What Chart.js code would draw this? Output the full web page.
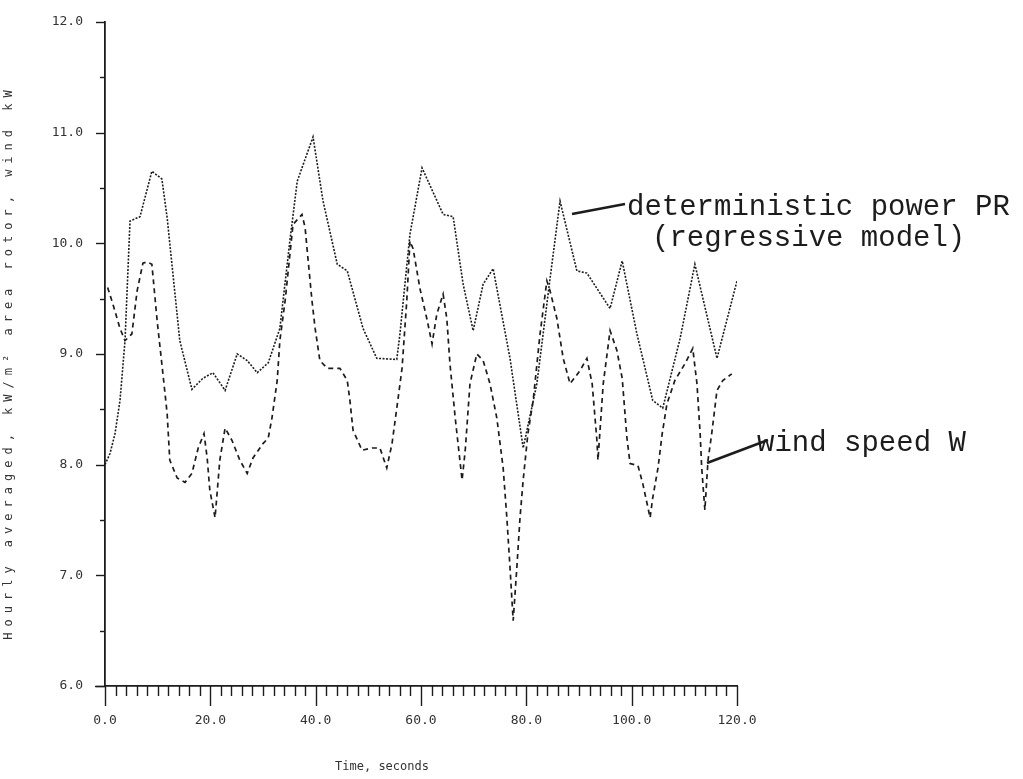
<!DOCTYPE html>
<html>
<head>
<meta charset="utf-8">
<script src="https://cdn.jsdelivr.net/npm/chart.js@4.4.1/dist/chart.umd.min.js"></script>
<style>
  html, body { margin: 0; padding: 0; background: #fff; }
  #wrap { width: 1023px; height: 779px; position: relative; }
</style>
</head>
<body>
<div id="wrap"><canvas id="chart" width="1023" height="779"></canvas></div>
<script>
// =====================
// DATA
// =====================
const xTicks = [0, 20, 40, 60, 80, 100, 120];
const yTicks = [6, 7, 8, 9, 10, 11, 12];

// deterministic power PR (regressive model) - fine dotted curve
const powerTime = [0, 0.95, 1.9, 2.85, 3.8, 4.75, 6.65, 8.9, 10.8, 11.8, 14.2, 16.5, 18.6, 20.5, 22.8, 25.1,
    27.0, 28.9, 31.0, 33.2, 35.1, 36.5, 39.5, 41.4, 44.1, 46.0, 49.0, 51.6, 55.4, 56.0, 57.9, 60.2,
    64.2, 66.1, 68.0, 69.9, 71.8, 73.7, 76.9, 79.4, 82.0, 84.5, 86.4, 89.6, 91.5, 95.9, 98.2, 101.0,
    104.0, 105.9, 109.2, 112.0, 116.2, 120.0];
const powerValues = [8.0, 8.10, 8.28, 8.58, 9.12, 10.20, 10.24, 10.65, 10.58, 10.23, 9.12, 8.68, 8.78, 8.83, 8.67, 9.00,
    8.94, 8.83, 8.92, 9.23, 10.02, 10.56, 10.96, 10.38, 9.81, 9.75, 9.23, 8.96, 8.95, 9.18, 10.08, 10.68,
    10.26, 10.24, 9.63, 9.21, 9.63, 9.77, 8.96, 8.15, 8.73, 9.68, 10.38, 9.75, 9.73, 9.41, 9.84, 9.18,
    8.58, 8.51, 9.14, 9.81, 8.96, 9.66];

// wind speed W - dashed curve
const windTime = [0.5, 1.5, 2.85, 3.8, 5.1, 6.1, 7.2, 8.0, 8.9, 9.9, 11.0, 11.8, 12.3, 13.7, 15.2, 16.5,
    17.7, 18.8, 19.4, 19.9, 20.9, 21.8, 22.8, 24.1, 25.6, 27.0, 28.1, 30.0, 31.0, 31.7, 32.7, 33.2,
    34.2, 35.7, 37.4, 38.0, 38.4, 39.3, 39.9, 40.8, 42.2, 44.6, 46.0, 46.5, 47.1, 48.8, 50.7, 52.2,
    53.5, 54.5, 55.6, 56.4, 57.3, 57.9, 58.5, 59.8, 61.1, 62.1, 63.0, 64.2, 64.9, 65.5, 66.5, 67.8,
    68.4, 69.3, 70.6, 71.8, 73.1, 74.4, 75.6, 76.3, 76.9, 77.5, 78.2, 78.8, 79.4, 80.3, 81.3, 82.6,
    83.9, 84.5, 85.8, 87.0, 88.3, 90.2, 91.5, 92.5, 93.4, 93.6, 94.6, 95.9, 97.2, 98.2, 99.1, 99.7,
    101.2, 102.1, 103.5, 104.0, 105.0, 105.8, 106.7, 108.2, 110.1, 111.6, 112.4, 113.0, 113.3, 113.9,
    114.5, 115.2, 116.2, 117.3, 119.0];
const windValues = [9.6, 9.45, 9.23, 9.12, 9.18, 9.57, 9.82, 9.83, 9.81, 9.30, 8.82, 8.46, 8.04, 7.88, 7.84, 7.92,
    8.15, 8.28, 8.06, 7.77, 7.52, 8.04, 8.33, 8.22, 8.04, 7.92, 8.06, 8.19, 8.24, 8.42, 8.76, 9.12,
    9.48, 10.17, 10.26, 10.14, 9.93, 9.48, 9.23, 8.94, 8.87, 8.87, 8.76, 8.58, 8.31, 8.13, 8.15, 8.15,
    7.97, 8.19, 8.58, 8.87, 9.48, 10.02, 9.95, 9.59, 9.32, 9.09, 9.36, 9.54, 9.32, 8.91, 8.42, 7.86,
    8.13, 8.73, 9.00, 8.94, 8.73, 8.42, 7.97, 7.52, 7.07, 6.59, 7.07, 7.52, 7.86, 8.28, 8.58, 9.18,
    9.66, 9.57, 9.32, 8.96, 8.73, 8.85, 8.96, 8.73, 8.22, 8.04, 8.73, 9.21, 9.03, 8.78, 8.24, 8.01,
    7.99, 7.83, 7.52, 7.70, 7.97, 8.28, 8.55, 8.76, 8.91, 9.05, 8.73, 8.28, 7.97, 7.59,
    8.04, 8.28, 8.67, 8.76, 8.82];

const xTitle = 'Time, seconds';
const yTitle = 'Hourly averaged, kW/m\u00B2 area rotor, wind kW';

const ink = '#1c1c1c';
const tickFont = { family: 'DejaVu Sans Mono', size: 13 };

function toPoints(xs, ys) {
    return xs.map((x, i) => ({ x: x, y: ys[i] }));
}

// =====================
// PLOTTER-STYLE AXES, TICKS AND NOTES
// =====================
const plotterDecor = {
    id: 'plotterDecor',
    afterDraw(chart) {
        const ctx = chart.ctx;
        const xs = chart.scales.x;
        const ys = chart.scales.y;
        const x0 = xs.getPixelForValue(0);
        const y0 = ys.getPixelForValue(6);

        ctx.save();
        ctx.strokeStyle = ink;
        ctx.lineWidth = 1.4;

        // x axis ticks: minor every 2 s, major every 20 s
        for (let t = 0; t <= 120; t += 2) {
            const px = Math.round(xs.getPixelForValue(t)) + 0.5;
            const len = (t % 20 === 0) ? 20 : 10;
            ctx.beginPath();
            ctx.moveTo(px, y0);
            ctx.lineTo(px, y0 + len);
            ctx.stroke();
        }
        // y axis ticks: every 0.5, pointing left
        for (let v = 6; v <= 12.001; v += 0.5) {
            const py = Math.round(ys.getPixelForValue(v)) + 0.5;
            const len = (Math.abs(v - Math.round(v)) < 0.01) ? 9 : 5;
            ctx.beginPath();
            ctx.moveTo(x0 - len, py);
            ctx.lineTo(x0, py);
            ctx.stroke();
        }
        // small extension of the x axis to the left
        ctx.beginPath();
        ctx.moveTo(x0 - 10, Math.round(y0) + 0.5);
        ctx.lineTo(x0, Math.round(y0) + 0.5);
        ctx.stroke();

        // axis titles
        ctx.fillStyle = '#333';
        ctx.font = '12px "DejaVu Sans Mono"';
        ctx.textAlign = 'center';
        ctx.textBaseline = 'middle';
        ctx.fillText(xTitle, 382, 767);

        ctx.save();
        ctx.translate(9, 362);
        ctx.rotate(-Math.PI / 2);
        ctx.letterSpacing = '6px';
        ctx.fillText(yTitle, 0, 0);
        ctx.restore();

        // annotations
        ctx.fillStyle = ink;
        ctx.font = '29px "Liberation Mono"';
        ctx.textAlign = 'left';
        ctx.textBaseline = 'alphabetic';
        ctx.fillText('deterministic power PR', 627, 215);
        ctx.fillText('(regressive model)', 652, 246);
        ctx.fillText('wind speed W', 757, 451);

        ctx.lineWidth = 2.6;
        ctx.beginPath();
        ctx.moveTo(572, 214);
        ctx.lineTo(625, 204);
        ctx.stroke();
        ctx.beginPath();
        ctx.moveTo(707, 463);
        ctx.lineTo(768, 440);
        ctx.stroke();
        ctx.restore();
    }
};

// =====================
// RENDER CHART
// =====================
const chart = new Chart(document.getElementById('chart').getContext('2d'), {
    type: 'line',
    data: {
        datasets: [
            {
                label: 'deterministic power PR (regressive model)',
                data: toPoints(powerTime, powerValues),
                borderColor: ink,
                borderWidth: 1.6,
                borderDash: [2, 1.5],
                pointRadius: 0,
                tension: 0,
                fill: false,
            },
            {
                label: 'wind speed W',
                data: toPoints(windTime, windValues),
                borderColor: ink,
                borderWidth: 1.7,
                borderDash: [5, 4],
                pointRadius: 0,
                tension: 0,
                fill: false,
            }
        ]
    },
    options: {
        responsive: false,
        animation: false,
        layout: { padding: { left: 0, right: 286, top: 20, bottom: 0 } },
        plugins: {
            legend: { display: false },
            tooltip: { enabled: false },
        },
        scales: {
            x: {
                type: 'linear',
                min: 0,
                max: 120,
                afterBuildTicks: s => { s.ticks = xTicks.map(v => ({ value: v })); },
                afterFit: s => { s.height = 93; },
                grid: { display: false },
                border: { display: true, color: ink, width: 1.8 },
                ticks: {
                    padding: 19,
                    maxRotation: 0,
                    autoSkip: false,
                    color: '#333',
                    font: tickFont,
                    callback: v => v.toFixed(1),
                },
            },
            y: {
                type: 'linear',
                min: 6,
                max: 12,
                afterBuildTicks: s => { s.ticks = yTicks.map(v => ({ value: v })); },
                afterFit: s => { s.width = 105; },
                grid: { display: false },
                border: { display: true, color: ink, width: 1.8 },
                ticks: {
                    padding: 14,
                    color: '#333',
                    font: tickFont,
                    callback: v => v.toFixed(1),
                },
            }
        }
    },
    plugins: [plotterDecor]
});
</script>
</body>
</html>
